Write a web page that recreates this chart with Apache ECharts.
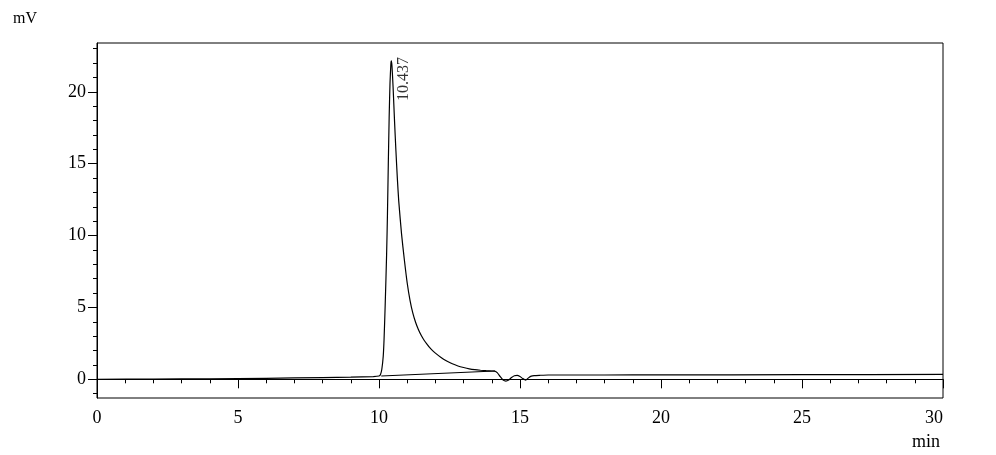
<!DOCTYPE html>
<html>
<head>
<meta charset="utf-8">
<script src="https://cdn.jsdelivr.net/npm/echarts@6/dist/echarts.min.js"></script>
<style>
html,body{margin:0;padding:0;background:#fff;}
#chart{width:996px;height:455px;}
</style>
</head>
<body>
<div id="chart"></div>
<script>
// Chromatogram signal (time in min, signal in mV)
const signalTimes = [0, 2, 4, 6, 8, 9, 9.8, 10.0, 10.05, 10.1, 10.15, 10.18, 10.22, 10.27, 10.3, 10.33, 10.36, 10.39, 10.42, 10.437, 10.46, 10.5, 10.55, 10.6, 10.65, 10.7, 10.8, 10.9, 11.0, 11.1, 11.2, 11.3, 11.4, 11.5, 11.6, 11.7, 11.8, 11.9, 12.0, 12.2, 12.4, 12.6, 12.8, 13.0, 13.2, 13.4, 13.6, 13.8, 14.0, 14.1, 14.2, 14.3, 14.4, 14.5, 14.6, 14.7, 14.8, 14.9, 15.0, 15.1, 15.2, 15.3, 15.4, 15.5, 15.7, 16, 18, 20, 25, 30];
const signalValues = [0.0, 0.02, 0.04, 0.07, 0.12, 0.15, 0.19, 0.23, 0.32, 0.7, 1.6, 2.8, 5.2, 8.7, 11.5, 15.0, 18.2, 20.6, 21.9, 22.15, 21.8, 20.3, 18.0, 15.9, 14.0, 12.4, 10.1, 8.3, 6.7, 5.5, 4.6, 3.95, 3.45, 3.05, 2.72, 2.45, 2.2, 2.0, 1.82, 1.52, 1.28, 1.08, 0.93, 0.82, 0.73, 0.67, 0.63, 0.6, 0.58, 0.57, 0.45, 0.18, -0.05, -0.12, -0.05, 0.12, 0.25, 0.28, 0.2, 0.05, -0.05, 0.1, 0.22, 0.26, 0.28, 0.3, 0.3, 0.31, 0.32, 0.34];
// Integration baseline under the peak
const baselineTimes = [10.08, 14.11];
const baselineValues = [0.23, 0.58];
// Peak annotation
const peakTime = 10.437;
const peakValue = 22.15;
const peakLabel = '10.437';
// Axis ticks
const yMajorTicks = [0, 5, 10, 15, 20];
const yMinorTicks = [-1, 0, 1, 2, 3, 4, 5, 6, 7, 8, 9, 10, 11, 12, 13, 14, 15, 16, 17, 18, 19, 20, 21, 22, 23];
const xName = 'min';
const yName = 'mV';

const FONT = '"Liberation Serif", "DejaVu Serif", serif';
const chart = echarts.init(document.getElementById('chart'), null, {renderer: 'canvas'});
const signal = signalTimes.map((t, i) => [t, signalValues[i]]);
const baseline = baselineTimes.map((t, i) => [t, baselineValues[i]]);

chart.setOption({
  animation: false,
  backgroundColor: '#fff',
  grid: {left: 97, right: 53, top: 43, bottom: 57, show: true, borderColor: '#000', borderWidth: 1, backgroundColor: 'transparent'},
  title: [{
    text: yName, left: 8, top: 6,
    textStyle: {fontFamily: FONT, fontSize: 16, fontWeight: 'normal', color: '#000'}
  }, {
    text: xName, right: 51, top: 428,
    textStyle: {fontFamily: FONT, fontSize: 18, fontWeight: 'normal', color: '#000'}
  }],
  xAxis: {
    type: 'value', min: 0, max: 30, interval: 5,
    axisLine: {show: true, lineStyle: {color: '#000', width: 1}},
    axisTick: {show: true, inside: false, length: 9, lineStyle: {color: '#000', width: 1}},
    minorTick: {show: true, splitNumber: 5, length: 4, lineStyle: {color: '#000', width: 1}},
    axisLabel: {color: '#000', fontFamily: FONT, fontSize: 18, margin: 11, alignMaxLabel: 'right'},
    splitLine: {show: false}, minorSplitLine: {show: false}
  },
  yAxis: [{
    type: 'value', min: -1.3, max: 23.4,
    axisLine: {show: true, onZero: false, lineStyle: {color: '#000', width: 1}},
    axisTick: {show: true, inside: false, length: 9, customValues: yMajorTicks, lineStyle: {color: '#000', width: 1}},
    axisLabel: {color: '#000', fontFamily: FONT, fontSize: 18, margin: 11, customValues: yMajorTicks},
    splitLine: {show: false}
  }, {
    type: 'value', min: -1.3, max: 23.4, position: 'left',
    axisLine: {show: false},
    axisTick: {show: true, inside: false, length: 4, customValues: yMinorTicks, lineStyle: {color: '#000', width: 1}},
    axisLabel: {show: false},
    splitLine: {show: false}
  }],
  series: [{
    type: 'line', data: signal, yAxisIndex: 0,
    showSymbol: false, symbol: 'none', smooth: 0.2,
    lineStyle: {color: '#000', width: 1.2}, z: 3
  }, {
    type: 'line', data: baseline, yAxisIndex: 0,
    showSymbol: false, symbol: 'none',
    lineStyle: {color: '#000', width: 1.2}, z: 3
  }, {
    type: 'scatter', data: [[peakTime, peakValue]], yAxisIndex: 0,
    symbolSize: 0, silent: true,
    label: {
      show: true, formatter: peakLabel, rotate: 90,
      position: [12, 40], align: 'left', verticalAlign: 'middle',
      fontFamily: FONT, fontSize: 16, color: '#000'
    }
  }]
});
</script>
</body>
</html>
